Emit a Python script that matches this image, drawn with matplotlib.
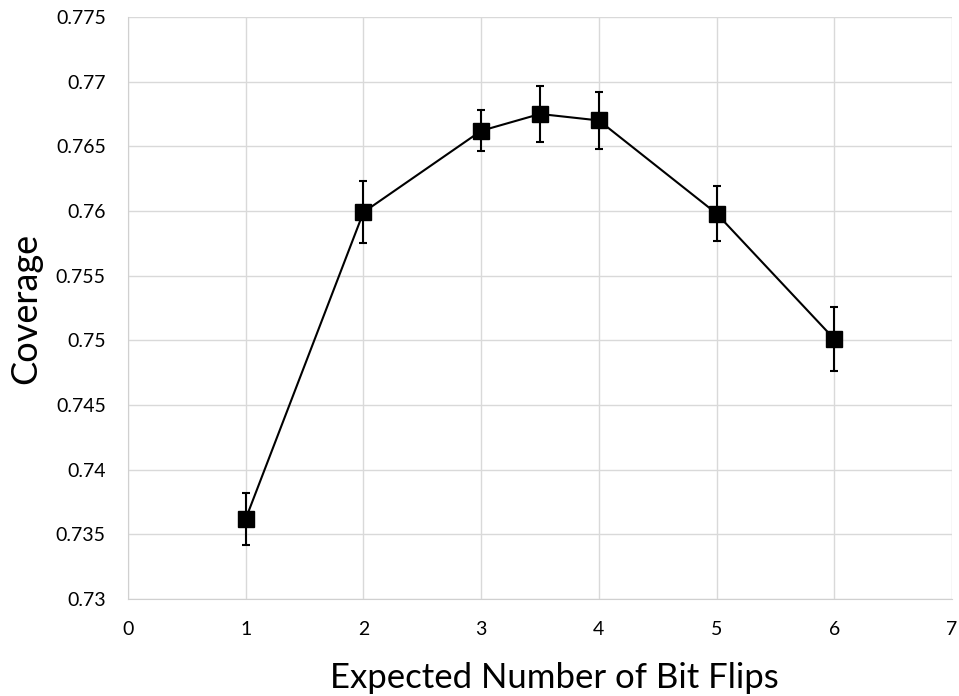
import matplotlib.pyplot as plt

# данные с графика
flips = [1, 2, 3, 3.5, 4, 5, 6]
coverage = [0.7362, 0.7599, 0.7662, 0.7675, 0.7670, 0.7598, 0.7501]
errors = [0.0020, 0.0024, 0.0016, 0.0022, 0.0022, 0.0021, 0.0025]

x_ticks = [0, 1, 2, 3, 4, 5, 6, 7]
y_ticks = [0.73, 0.735, 0.74, 0.745, 0.75, 0.755, 0.76, 0.765, 0.77, 0.775]
y_labels = ['0.73', '0.735', '0.74', '0.745', '0.75', '0.755', '0.76', '0.765', '0.77', '0.775']

plt.rcParams['font.family'] = ['Lato', 'DejaVu Sans']

fig = plt.figure(figsize=(9.59, 6.96), dpi=100)
ax = fig.add_axes([0.1335, 0.1394, 0.8592, 0.8362])

ax.errorbar(flips, coverage, yerr=errors, color='black', lw=1.5,
            marker='s', markersize=11, capsize=3, capthick=1.5, elinewidth=1.5,
            zorder=3)

ax.set_xlim(0, 7)
ax.set_ylim(0.73, 0.775)
ax.set_xticks(x_ticks)
ax.set_yticks(y_ticks)
ax.set_yticklabels(y_labels)
ax.tick_params(axis='x', length=0, labelsize=14, colors='black', pad=16)
ax.tick_params(axis='y', length=0, labelsize=14, colors='black', pad=16)
ax.grid(True, color='#d9d9d9', lw=1)
ax.set_axisbelow(True)
for s in ['top', 'right']:
    ax.spines[s].set_visible(False)
for s in ['left', 'bottom']:
    ax.spines[s].set_color('#d0d0d0')

ax.set_xlabel('Expected Number of Bit Flips', fontsize=25)
ax.set_ylabel('Coverage', fontsize=26)
# подпись оси X чуть правее центра, как в оригинале
ax.xaxis.set_label_coords(0.517, -0.108)
ax.yaxis.set_label_coords(-0.104, 0.5)

plt.savefig('out.png', dpi=100)
